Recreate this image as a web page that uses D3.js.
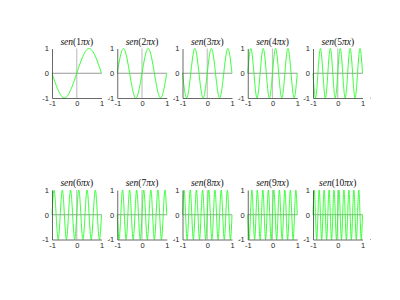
<!DOCTYPE html>
<html>
<head>
<meta charset="utf-8">
<script src="https://cdn.jsdelivr.net/npm/d3@7"></script>
<style>
  body { margin: 0; background: #fff; }
  svg { display: block; }
</style>
</head>
<body>
<div id="chart"></div>
<script>
// frequencies shown in the panel titles
const freqs = [1, 2, 3, 4, 5, 6, 7, 8, 9, 10];

// curve values read at every quarter period, from x = -1 to x = 1
const sen1 = [0,-1,0,1,0];
const sen2 = [0,1,0,-1,0,1,0,-1,0];
const sen3 = [0,-1,0,1,0,-1,0,1,0,-1,0,1,0];
const sen4 = [0,1,0,-1,0,1,0,-1,0,1,0,-1,0,1,0,-1,0];
const sen5 = [0,-1,0,1,0,-1,0,1,0,-1,0,1,0,-1,0,1,0,-1,0,1,0];
const sen6 = [0,1,0,-1,0,1,0,-1,0,1,0,-1,0,1,0,-1,0,1,0,-1,0,1,0,-1,0];
const sen7 = [0,-1,0,1,0,-1,0,1,0,-1,0,1,0,-1,0,1,0,-1,0,1,0,-1,0,1,0,-1,0,1,0];
const sen8 = [0,1,0,-1,0,1,0,-1,0,1,0,-1,0,1,0,-1,0,1,0,-1,0,1,0,-1,0,1,0,-1,0,1,0,-1,0];
const sen9 = [0,-1,0,1,0,-1,0,1,0,-1,0,1,0,-1,0,1,0,-1,0,1,0,-1,0,1,0,-1,0,1,0,-1,0,1,0,-1,0,1,0];
const sen10 = [0,1,0,-1,0,1,0,-1,0,1,0,-1,0,1,0,-1,0,1,0,-1,0,1,0,-1,0,1,0,-1,0,1,0,-1,0,1,0,-1,0,1,0,-1,0];
const curves = [sen1, sen2, sen3, sen4, sen5, sen6, sen7, sen8, sen9, sen10];

const xTicks = [-1, 0, 1];
const yTicks = [-1, 0, 1];

const W = 400, H = 300;
const panelW = 49.5, panelH = 49.5;
const col0 = 52, colStep = 65.25;
const rowTops = [48.5, 190];

const svg = d3.select("#chart")
    .append("svg")
    .attr("width", W)
    .attr("height", H);

freqs.forEach((k, i) => {
    const col = i % 5, row = Math.floor(i / 5);
    const g = svg.append("g")
        .attr("transform", `translate(${col0 + col * colStep},${rowTops[row]})`);

    const x = d3.scaleLinear().domain([-1, 1]).range([0, panelW]);
    const y = d3.scaleLinear().domain([-1, 1]).range([panelH, 0]);

    // zero lines
    g.append("line")
        .attr("x1", x(0)).attr("x2", x(0))
        .attr("y1", y(-1)).attr("y2", y(1))
        .attr("stroke", "#c4c4c4")
        .attr("stroke-width", 1.2);
    g.append("line")
        .attr("x1", x(-1)).attr("x2", x(1))
        .attr("y1", y(0)).attr("y2", y(0))
        .attr("stroke", "#808080")
        .attr("stroke-width", 0.8);

    const vals = curves[i];
    const pts = vals.map((v, j) => [-1 + 2 * j / (vals.length - 1), v]);
    const line = d3.line()
        .x(d => x(d[0]))
        .y(d => y(d[1]))
        .curve(d3.curveNatural);

    g.append("path")
        .datum(pts)
        .attr("fill", "none")
        .attr("stroke", "#22ff22")
        .attr("stroke-width", 0.9)
        .attr("d", line);

    const xAxis = g.append("g")
        .attr("transform", `translate(0,${panelH})`)
        .call(d3.axisBottom(x).tickValues(xTicks).tickSize(0).tickPadding(3).tickFormat(d => String(d)));
    const yAxis = g.append("g")
        .call(d3.axisLeft(y).tickValues(yTicks).tickSize(0).tickPadding(3).tickFormat(d => String(d)));

    [xAxis, yAxis].forEach(a => {
        a.select(".domain").attr("stroke", "#444").attr("stroke-width", 0.8);
        a.selectAll("text")
            .attr("fill", "#262626")
            .style("font-family", "'Liberation Sans', Arial, sans-serif")
            .style("font-size", "7.5px");
    });

    // small stray mark right of the axis, as in the original
    g.append("circle")
        .attr("cx", panelW + 8)
        .attr("cy", panelH)
        .attr("r", 0.5)
        .attr("fill", "#888");

    const title = g.append("text")
        .attr("x", x(0))
        .attr("y", -4)
        .attr("text-anchor", "middle")
        .style("font-family", "'Liberation Serif', 'DejaVu Serif', serif")
        .style("font-size", "9.5px")
        .attr("fill", "#111");
    title.append("tspan").style("font-style", "italic").text("sen");
    title.append("tspan").text("(" + k);
    title.append("tspan").style("font-style", "italic").text("πx");
    title.append("tspan").text(")");
});
</script>
</body>
</html>
